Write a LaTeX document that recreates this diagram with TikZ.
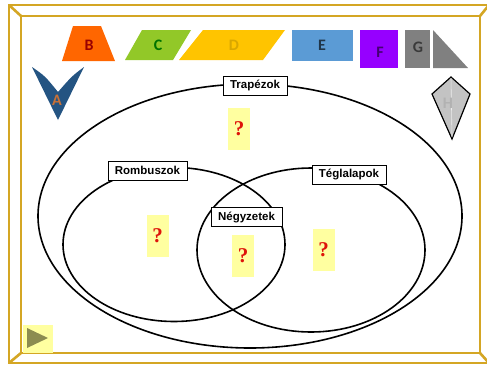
\documentclass[tikz,border=0pt]{standalone}
\usepackage{fontspec}
\setmainfont{Liberation Sans}
\newfontfamily\lettfont{Carlito}
\newfontfamily\qfont{Liberation Serif}
\begin{document}
\begin{tikzpicture}[x=1pt,y=-1pt,
  framegold/.style={draw=frameC,line width=2.6pt},
  setline/.style={draw=black,line width=1.6pt},
  setlabel/.style={draw=black,line width=0.8pt,fill=white,font=\bfseries\fontsize{11.5}{12}\selectfont,
     inner xsep=7pt,inner ysep=0pt,minimum height=19pt,text height=9pt,text depth=2.5pt},
  qbox/.style={fill=qyellow,minimum width=22pt,minimum height=42pt,inner sep=0pt,
     text=qred,font=\qfont\bfseries\fontsize{21}{22}\selectfont},
  tile/.style={font=\lettfont\bfseries\fontsize{16}{16}\selectfont,inner sep=0pt}]
\definecolor{frameC}{RGB}{212,166,36}
\definecolor{qyellow}{RGB}{255,255,160}
\definecolor{qred}{RGB}{222,20,10}
\definecolor{shB}{RGB}{255,102,0}
\definecolor{shC}{RGB}{146,200,40}
\definecolor{shD}{RGB}{255,196,0}
\definecolor{shE}{RGB}{91,155,213}
\definecolor{shF}{RGB}{150,0,255}
\definecolor{shG}{RGB}{128,128,128}
\definecolor{shA}{RGB}{36,84,130}
\definecolor{shH}{RGB}{195,195,195}
\definecolor{letA}{RGB}{200,113,55}
\definecolor{letH}{RGB}{178,178,178}
\definecolor{playY}{RGB}{255,255,160}
\definecolor{playT}{RGB}{140,140,80}

\useasboundingbox (0,0) rectangle (487,365);
\fill[white] (0,0) rectangle (487,365);

% golden double frame with mitred corners
\begin{scope}
\clip (0,0) rectangle (487,365);
\draw[framegold] (9,5) rectangle (489,363);
\draw[framegold] (21,16) rectangle (480,353);
\draw[framegold] (9,5) -- (21,16);
\draw[framegold] (489,5) -- (480,16);
\draw[framegold] (9,363) -- (21,353);
\draw[framegold] (489,363) -- (480,353);
\end{scope}

% shape tiles
\fill[shB] (62,61) -- (73,26) -- (101,26) -- (115,61) -- cycle;
\node[tile,text=red!60!black] (lB) at (89,45) {B};
\fill[shC] (125,60) -- (142,30) -- (191,30) -- (173,60) -- cycle;
\node[tile,text=green!45!black] (lC) at (158,45) {C};
\fill[shD] (179,60) -- (203,30) -- (285,30) -- (263,60) -- cycle;
\node[tile,text=shD!85!black] (lD) at (234,45) {D};
\fill[shE] (292,30) rectangle (353,61);
\node[tile,text=shE!35!black] (lE) at (322,45) {E};
\fill[shF] (360,30) rectangle (398,68);
\node[tile,text=shF!45!black] (lF) at (380,52) {F};
\fill[shG] (405,30) rectangle (430,68);
\fill[shG] (433,30) -- (468,68) -- (433,68) -- cycle;
\node[tile,text=shG!45!black] (lG) at (418,47) {G};
\fill[shA] (32,67) -- (58,120) -- (84,67) .. controls (72,76) .. (58,92) .. controls (45,76) .. cycle;
\node[tile,text=letA] (lA) at (57,100) {A};
\draw[black,line width=1.2pt,fill=shH] (451,77) -- (470,94) -- (452,139) -- (432,94) -- cycle;
\draw[white!85!gray,line width=0.6pt] (451,78) -- (452,137);
\node[tile,text=letH] (lH) at (448,103) {H};

% Venn ellipses
\draw[setline] (250,216) ellipse [x radius=212pt,y radius=132pt];
\draw[setline] (174,244.5) ellipse [x radius=111pt,y radius=77pt];
\draw[setline] (311,250) ellipse [x radius=114pt,y radius=82pt];

% set labels
\node[setlabel] (trap) at (255,85.5) {Trapézok};
\node[setlabel] (romb) at (147.5,171) {Rombuszok};
\node[setlabel] (tegl) at (349,174.5) {Téglalapok};
\node[setlabel] (negy) at (246.5,217) {Négyzetek};

% question marks
\node[qbox] (q1) at (239,129) {?};
\node[qbox] (q2) at (157.5,236) {?};
\node[qbox] (q3) at (243,256) {?};
\node[qbox] (q4) at (323.5,249.5) {?};

% play button
\fill[playY] (23,325) rectangle (53,353);
\fill[playT] (27,328) -- (48,338) -- (27,348) -- cycle;
\end{tikzpicture}
\end{document}
